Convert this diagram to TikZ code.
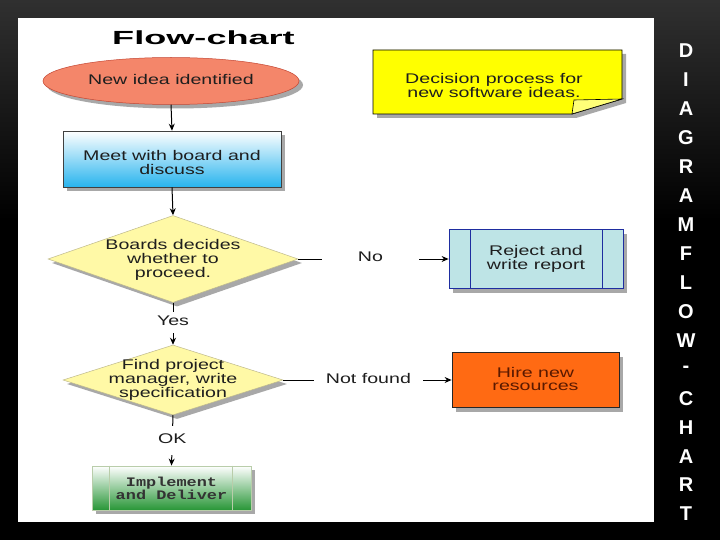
\documentclass[tikz,border=0pt]{standalone}
\usepackage{graphicx}
\usepackage{fontspec}
\setmainfont{Liberation Sans}
\setmonofont{Liberation Mono}
\usetikzlibrary{shapes.geometric,shadows,arrows.meta}
\definecolor{salmonfill}{RGB}{244,134,106}
\definecolor{salmonline}{RGB}{196,70,50}
\definecolor{cyanbot}{RGB}{40,180,238}
\definecolor{diafill}{RGB}{255,249,166}
\definecolor{dialine}{RGB}{190,185,140}
\definecolor{rejfill}{RGB}{190,228,230}
\definecolor{rejline}{RGB}{30,45,160}
\definecolor{hirefill}{RGB}{255,106,19}
\definecolor{hiretext}{RGB}{90,25,0}
\definecolor{implgreen}{RGB}{40,150,55}
\definecolor{impline}{RGB}{185,205,170}
\definecolor{notefill}{RGB}{255,255,0}
\definecolor{flapfill}{RGB}{255,255,120}
\definecolor{txt}{RGB}{30,30,30}
\definecolor{bgtop}{RGB}{48,48,48}
\newcommand\stx[1]{{\fontsize{14}{12.5}\selectfont\scalebox{1.4}[1]{\begin{tabular}{@{}c@{}}#1\end{tabular}}}}
\newcommand\mtx[1]{{\ttfamily\bfseries\fontsize{13}{12}\selectfont\scalebox{1.3}[1]{\begin{tabular}{@{}c@{}}#1\end{tabular}}}}
\begin{document}
\begin{tikzpicture}[x=1pt,y=-1pt,
  shad/.style={drop shadow={shadow xshift=4pt,shadow yshift=-4pt,fill=black!45,opacity=0.75}},
  boxbase/.style={rectangle,inner sep=0pt,text=txt,shad},
  conn/.style={draw=black,line width=1pt},
  arr/.style={conn,-{Stealth[length=7pt,width=6pt]}},
  lab/.style={fill=white,inner sep=0pt,text=txt}]
\useasboundingbox (0,0) rectangle (720,540);
% background
\fill[black] (0,0) rectangle (720,540);
\shade[top color=bgtop,bottom color=black] (0,0) rectangle (720,220);
\fill[white] (18,18) rectangle (654,522);
% title
\node[anchor=base,text=black,inner sep=0pt] (title) at (203.5,44.5)
  {\fontsize{19}{19}\selectfont\bfseries\scalebox{1.9}[1]{Flow-chart}};
% start ellipse
\node[ellipse,inner sep=0pt,minimum width=256pt,minimum height=47pt,
  fill=salmonfill,draw=salmonline,line width=0.5pt,text=txt,shad] (start) at (171,81)
  {\stx{New idea identified}};
% meet box
\node[boxbase,minimum width=218pt,minimum height=56pt,top color=white,bottom color=cyanbot,
  draw=black!75,line width=0.6pt] (meet) at (172,159) {};
\node[inner sep=0pt,text=txt] (meett) at (172,164) {\stx{Meet with board and\\discuss}};
% decision 1
\node[diamond,inner sep=0pt,minimum width=250pt,minimum height=87pt,fill=diafill,
  draw=dialine,line width=0.5pt,shad] (d1) at (173,259) {};
\node[inner sep=0pt,text=txt] (d1t) at (173,260) {\stx{Boards decides\\whether to\\proceed.}};
% decision 2
\node[diamond,inner sep=0pt,minimum width=220pt,minimum height=70pt,fill=diafill,
  draw=dialine,line width=0.5pt,shad] (d2) at (173,380) {};
\node[inner sep=0pt,text=txt] (d2t) at (173,380) {\stx{Find project\\manager, write\\specification}};
% reject
\node[boxbase,minimum width=174pt,minimum height=59pt,fill=rejfill,draw=rejline,line width=0.8pt]
  (rej) at (536,259) {};
\node[inner sep=0pt,text=txt] (rejt) at (536,259) {\stx{Reject and\\write report}};
\draw[rejline,line width=0.6pt] (rej.north west) ++(22,0) -- ++(0,59);
\draw[rejline,line width=0.6pt] (rej.north east) ++(-21,0) -- ++(0,59);
% hire
\node[boxbase,minimum width=167pt,minimum height=55pt,fill=hirefill,draw=black!85,line width=0.8pt]
  (hire) at (535.5,380) {};
\node[inner sep=0pt,text=hiretext] (hiret) at (535.5,381) {\stx{Hire new\\resources}};
% implement
\node[boxbase,minimum width=159pt,minimum height=44pt,top color=white,bottom color=implgreen,
  draw=impline,line width=0.8pt] (impl) at (171.5,488) {};
\node[inner sep=0pt,text=black!80] (implt) at (171.5,490) {\mtx{Implement\\and Deliver}};
\draw[impline,line width=0.8pt] (impl.north west) ++(18,0) -- ++(0,44);
\draw[impline,line width=0.8pt] (impl.north east) ++(-19,0) -- ++(0,44);
% note
\draw[shad,fill=notefill,draw=black,line width=0.8pt]
  (373,50) -- (622,50) -- (622,99) -- (572,114) -- (373,114) -- cycle;
\draw[fill=flapfill,draw=black,line width=0.6pt] (572,114) -- (574,100) -- (622,99) -- cycle;
\node[inner sep=0pt,text=txt] (note) at (494,87) {\stx{Decision process for\\new software ideas.}};
% connectors
\draw[arr] (start.south) -- (meet.north);
\draw[arr] (meet.south) -- (d1.north);
\draw[arr] (d1.east) -- node[lab,pos=0.48,inner xsep=36pt] (lno) {\stx{No}} (rej.west);
\draw[arr] (d1.south) -- node[lab,pos=0.47,inner ysep=4pt] (lyes) {\stx{Yes}} (d2.north);
\draw[arr] (d2.east) -- node[lab,pos=0.506,inner xsep=12pt] (lnf) {\stx{Not found}} (hire.west);
\draw[arr] (d2.south) -- node[lab,pos=0.5,inner ysep=8pt] (lok) {\stx{OK}} (impl.north);
% vertical title
\foreach \ch [count=\i from 0] in {D,I,A,G,R,A,M,F,L,O,W,-,C,H,A,R,T}
  \node[text=white,inner sep=0pt,font=\fontsize{20}{20}\selectfont\bfseries] (v\i) at (686,51+\i*28.94) {\ch};
\end{tikzpicture}
\end{document}
